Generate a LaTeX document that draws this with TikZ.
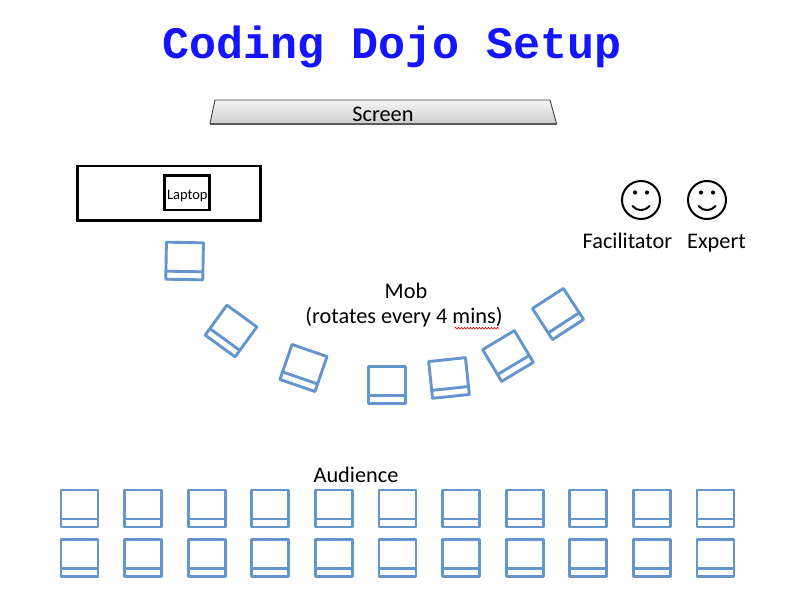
\documentclass[tikz,border=0pt]{standalone}
\usepackage{fontspec}
\setmainfont{Carlito}
\newfontfamily\titlefont{Liberation Mono}
\usetikzlibrary{decorations.pathmorphing}
\definecolor{chairblue}{RGB}{100,150,205}
\definecolor{titleblue}{RGB}{20,20,255}
\tikzset{
  lbl/.style={font=\fontsize{22.3}{25}\selectfont, inner sep=0pt, anchor=base},
  chairline/.style={draw=chairblue, line width=2.9pt, line join=round},
  pics/chair/.style={code={
    \draw[chairline] (-18.5,-18.5) rectangle (18.5,18.5);
    \draw[chairline] (-18.5,10.5) -- (18.5,10.5);
  }},
  face/.style={draw=black, line width=2pt},
}
\begin{document}
\begin{tikzpicture}[x=1pt,y=-1pt]
\useasboundingbox (0,0) rectangle (807,608);
\fill[white] (0,0) rectangle (807,608);

% title
\node[inner sep=0pt, anchor=base, text=titleblue, font=\titlefont\bfseries\fontsize{45}{50}\selectfont] (title) at (392.5,58) {Coding Dojo Setup};

% screen
\shade[top color=gray!8, bottom color=gray!38, draw=black!75, line width=0.9pt]
  (215,100) -- (550,100) -- (556.5,123.5) -- (210,123.5) -- cycle;
\draw[black!65, line width=1.6pt] (210,123.8) -- (556.5,123.8);
\node[lbl] (screen) at (383,121) {Screen};

% laptop table
\draw[line width=2.5pt] (77.3,166) rectangle (260.7,220.7);
\draw[line width=2.5pt] (164.7,175.7) rectangle (209.7,210);
\node[inner sep=0pt, anchor=base, font=\fontsize{14.5}{16}\selectfont] (laptop) at (187.3,199) {Laptop};

% smileys
\foreach \cx/\nm in {641/fac, 707/exp}{
  \draw[face] (\cx,200) circle (19);
  \fill (\cx-6,192.5) circle (2.1);
  \fill (\cx+6,192.5) circle (2.1);
  \draw[face, line cap=round] (\cx-8.5,206) .. controls (\cx-4,211.5) and (\cx+4,211.5) .. (\cx+8.5,206);
}
\node[lbl] (facilitator) at (627.5,248) {Facilitator};
\node[lbl] (expert) at (716.5,248) {Expert};

% mob
\node[lbl] (mob) at (406,298.3) {Mob};
\node[lbl] (mobnote) at (404,323.3) {(rotates every 4 mins)};
\draw[red!85!black, line width=0.6pt, decorate, decoration={snake, amplitude=0.9pt, segment length=3pt}] (454.5,328.2) -- (499,328.2);

\pic[rotate=-1] at (184.6,261) {chair};
\pic[rotate=-36] at (231,331) {chair};
\pic[rotate=-19] at (303.5,368) {chair};
\pic at (387,385) {chair};
\pic[rotate=6] at (449,378) {chair};
\pic[rotate=31] at (508,356) {chair};
\pic[rotate=33] at (558,314) {chair};

% audience
\node[lbl] (audience) at (356,482) {Audience};
\foreach \i in {0,...,10}{
  \pic at (79.5+63.6*\i,508.5) {chair};
  \pic at (79.5+63.6*\i,558) {chair};
}
\end{tikzpicture}
\end{document}
